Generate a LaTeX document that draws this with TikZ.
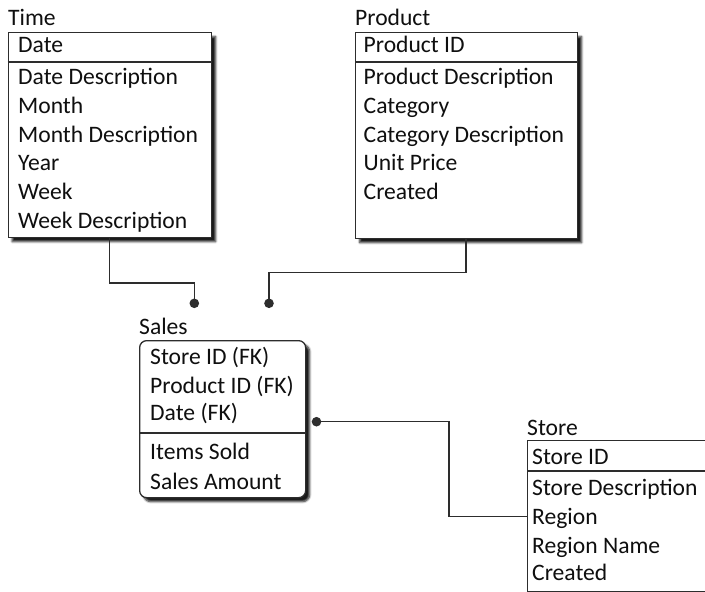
\documentclass[tikz,border=0pt]{standalone}
\usepackage{fontspec}
\setmainfont{Carlito}
\usetikzlibrary{shadows.blur}
\definecolor{edgec}{RGB}{45,45,45}
\definecolor{txtc}{RGB}{15,15,15}
\begin{document}
\begin{tikzpicture}[x=1pt,y=-1pt,
  tbl/.style={draw=edgec, line width=1.3pt, fill=white, rectangle, anchor=north west, inner sep=0pt,
    blur shadow={shadow xshift=4pt, shadow yshift=-4pt, shadow opacity=90, shadow blur radius=2pt, shadow blur steps=6}},
  divline/.style={draw=edgec, line width=1.2pt},
  conn/.style={draw=edgec, line width=1.1pt},
  rowtxt/.style={anchor=base west, inner sep=0pt, font=\fontsize{23.6}{28}\selectfont, text=txtc},
  dotc/.style={fill=edgec}
]
\useasboundingbox (0,0) rectangle (705,592);
\clip (0,0) rectangle (705,592);

% ---------- Time ----------
\node[rowtxt] (tlab) at (8,25.5) {Time};
\node[tbl, minimum width=203.5pt, minimum height=205pt] (timebox) at (7.5,32) {};
\draw[divline] ([yshift=-30pt]timebox.north west) -- ([yshift=-30pt]timebox.north east);
\node[rowtxt] (t1) at (18,52.5) {Date};
\node[rowtxt] (t2) at (18,84.5) {Date Description};
\node[rowtxt] (t3) at (18,113.5) {Month};
\node[rowtxt] (t4) at (18,142.5) {Month Description};
\node[rowtxt] (t5) at (18,170.5) {Year};
\node[rowtxt] (t6) at (18,199.5) {Week};
\node[rowtxt] (t7) at (18,228.5) {Week Description};

% ---------- Product ----------
\node[rowtxt] (plab) at (355,25.5) {Product};
\node[tbl, minimum width=222pt, minimum height=206pt] (prodbox) at (355,32) {};
\draw[divline] ([yshift=-30pt]prodbox.north west) -- ([yshift=-30pt]prodbox.north east);
\node[rowtxt] (p1) at (363.5,52.5) {Product ID};
\node[rowtxt] (p2) at (363.5,84.5) {Product Description};
\node[rowtxt] (p3) at (363.5,113.5) {Category};
\node[rowtxt] (p4) at (363.5,142.5) {Category Description};
\node[rowtxt] (p5) at (363.5,170.5) {Unit Price};
\node[rowtxt] (p6) at (363.5,199.5) {Created};

% ---------- Sales ----------
\node[rowtxt] (slab) at (139,334.5) {Sales};
\node[tbl, rounded corners=7pt, minimum width=166pt, minimum height=157pt] (salesbox) at (139,340) {};
\draw[divline] ([yshift=-93pt]salesbox.north west) -- ([yshift=-93pt]salesbox.north east);
\node[rowtxt] (s1) at (150,364.2) {Store ID (FK)};
\node[rowtxt] (s2) at (150,393.2) {Product ID (FK)};
\node[rowtxt] (s3) at (150,420.8) {Date (FK)};
\node[rowtxt] (s4) at (150,459.5) {Items Sold};
\node[rowtxt] (s5) at (150,489.5) {Sales Amount};

% ---------- Store ----------
\node[rowtxt] (stlab) at (527,435.5) {Store};
\node[tbl, minimum width=200pt, minimum height=151pt] (storebox) at (527,440) {};
\draw[divline] ([yshift=-31pt]storebox.north west) -- ([yshift=-31pt]storebox.north east);
\node[rowtxt] (r1) at (532,464) {Store ID};
\node[rowtxt] (r2) at (532,495.5) {Store Description};
\node[rowtxt] (r3) at (532,524) {Region};
\node[rowtxt] (r4) at (532,553) {Region Name};
\node[rowtxt] (r5) at (532,580.5) {Created};

% ---------- Connectors ----------
\coordinate (d1) at (194.3,303.3);
\coordinate (d2) at (269,303.3);
\coordinate (d3) at (316.5,421.7);

\draw[conn] ([xshift=101.8pt]timebox.south west) -- ++(0,44.7) -| (d1);
\draw[conn] ([xshift=111pt]prodbox.south west) -- ++(0,33) -| (d2);
\draw[conn] (d3) -- ++(132.5,0) |- (storebox.west);

\fill[dotc] (d1) circle (4.8pt);
\fill[dotc] (d2) circle (4.8pt);
\fill[dotc] (d3) circle (4.8pt);
\end{tikzpicture}
\end{document}
